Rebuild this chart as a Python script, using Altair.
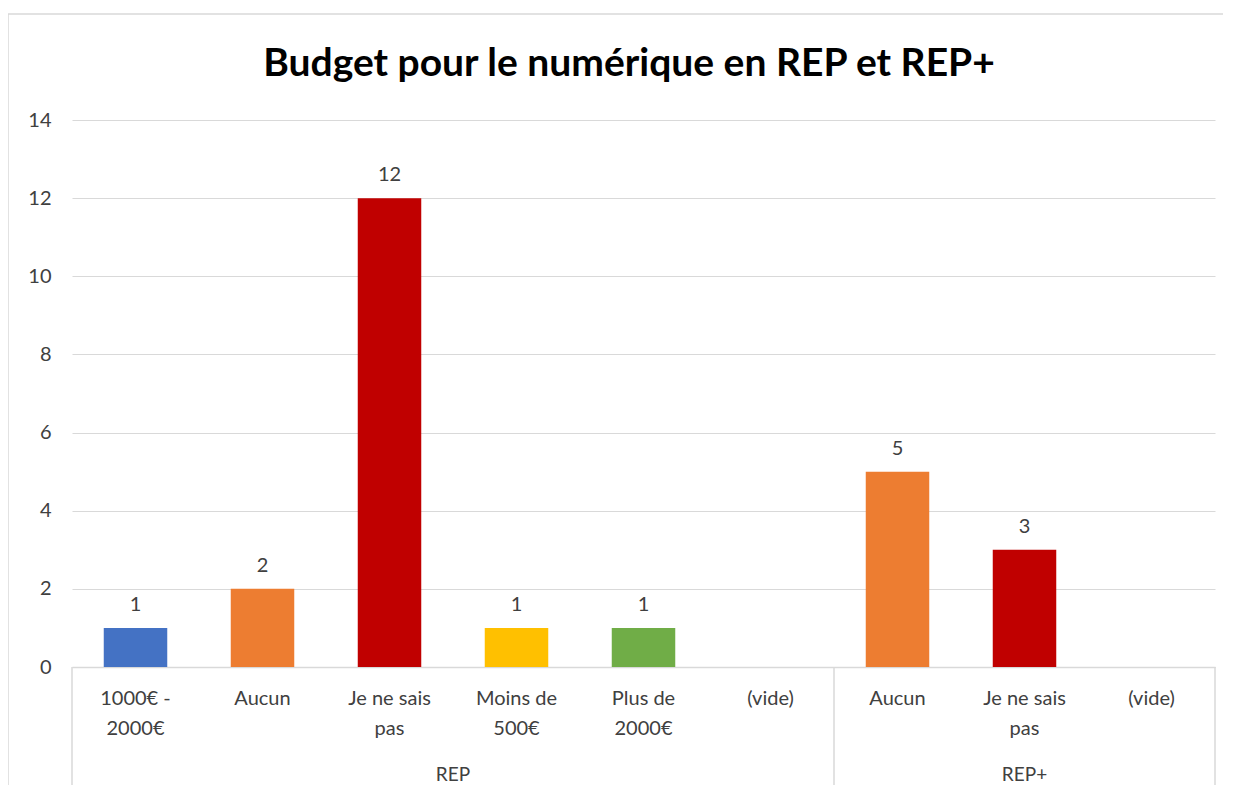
import altair as alt
import pandas as pd

title_text = "Budget pour le numérique en REP et REP+"
groups = ["REP", "REP", "REP", "REP", "REP", "REP", "REP+", "REP+", "REP+"]
categories = ["1000€ -\n2000€", "Aucun", "Je ne sais\npas", "Moins de\n500€", "Plus de\n2000€", "(vide)",
              "Aucun", "Je ne sais\npas", "(vide)"]
values = [1, 2, 12, 1, 1, None, 5, 3, None]
colors = ["#4472C4", "#ED7D31", "#C00000", "#FFC000", "#70AD47", "#FFFFFF",
          "#ED7D31", "#C00000", "#FFFFFF"]
group_names = ["REP", "REP+"]
y_ticks = [0, 2, 4, 6, 8, 10, 12, 14]

W, H = 1143, 547
FONT = "Lato"

rows = []
for i, (g, c, v, col) in enumerate(zip(groups, categories, values, colors)):
    rows.append({"idx": i, "group": g, "cat": c, "value": v, "color": col, "base": 0,
                 "x0": i + 0.25, "x1": i + 0.75, "xm": i + 0.5})
df = pd.DataFrame(rows)

grp_rows = []
for g in group_names:
    ids = [i for i, gg in enumerate(groups) if gg == g]
    grp_rows.append({"group": g, "start": min(ids), "end": max(ids) + 1,
                     "mid": (min(ids) + max(ids) + 1) / 2})
gdf = pd.DataFrame(grp_rows)
sep_df = pd.DataFrame({"pos": sorted(set([0] + list(gdf["end"])))})

xscale = alt.Scale(domain=[0, len(categories)], nice=False, zero=False)
yscale = alt.Scale(domain=[0, 14], nice=False)

base = alt.Chart(df)

bars = base.transform_filter("datum.value != null").mark_bar().encode(
    x=alt.X("x0:Q", scale=xscale,
            axis=alt.Axis(labels=False, ticks=False, grid=False, title=None,
                          domainColor="#d9d9d9", domainWidth=1.5)),
    x2="x1:Q",
    y=alt.Y("value:Q", scale=yscale,
            axis=alt.Axis(values=y_ticks, title=None, ticks=False, domain=False,
                          gridColor="#d9d9d9", gridWidth=1.2,
                          labelFont=FONT, labelFontSize=20, labelColor="#404040",
                          labelPadding=21)),
    y2="base:Q",
    color=alt.Color("color:N", scale=None),
)

vlabels = base.transform_filter("datum.value != null").mark_text(
    font=FONT, fontSize=20, color="#404040", baseline="alphabetic", dy=-17
).encode(
    x=alt.X("xm:Q", scale=xscale),
    y=alt.Y("value:Q", scale=yscale),
    text="value:Q",
)

cat_labels = base.mark_text(
    font=FONT, fontSize=20, color="#404040", baseline="alphabetic",
    lineBreak="\n", lineHeight=30, align="center"
).encode(
    x=alt.X("xm:Q", scale=xscale),
    y=alt.value(H + 38),
    text="cat:N",
)

grp_labels = alt.Chart(gdf).mark_text(
    font=FONT, fontSize=19, color="#404040", baseline="alphabetic", align="center"
).encode(
    x=alt.X("mid:Q", scale=xscale),
    y=alt.value(H + 114),
    text="group:N",
)

seps = alt.Chart(sep_df).mark_rule(color="#d9d9d9", strokeWidth=1.5).encode(
    x=alt.X("pos:Q", scale=xscale),
    y=alt.value(H),
    y2=alt.value(H + 123),
)

border = alt.Chart(pd.DataFrame({"k": [0]})).mark_rect(
    fill=None, stroke="#d9d9d9", strokeWidth=1.5
).encode(
    x=alt.value(-64), x2=alt.value(1160), y=alt.value(-106), y2=alt.value(H + 200),
)

title = alt.Chart(pd.DataFrame({"t": [title_text]})).mark_text(
    font=FONT, fontSize=39, fontWeight="bold", color="#000000",
    baseline="alphabetic", align="center"
).encode(
    x=alt.value(557), y=alt.value(-44), text="t:N",
)

chart = alt.layer(border, bars, vlabels, cat_labels, grp_labels, seps, title).properties(
    width=W, height=H,
    padding={"left": 64, "top": 112, "right": 8, "bottom": 118},
    autosize=alt.AutoSizeParams(type="none"),
).configure_view(stroke=None)

chart.save("out.html", embed_options={"renderer": "svg", "actions": False})
